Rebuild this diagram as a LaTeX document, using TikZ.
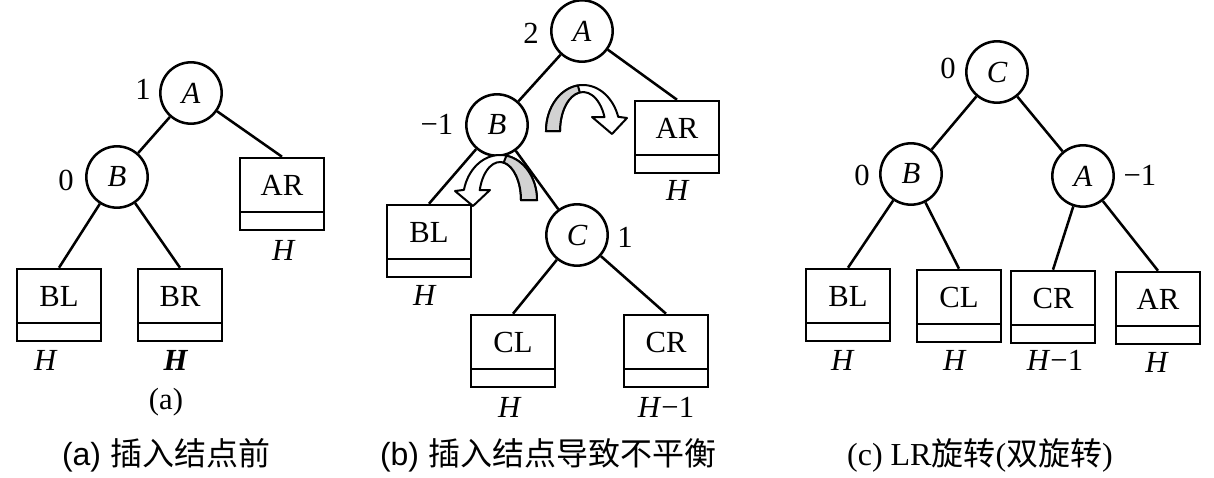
\documentclass[tikz,border=0pt]{standalone}
\usepackage{fontspec}
\setmainfont{Liberation Serif}
\newfontfamily\capsans{Liberation Sans}
\newfontfamily\cjk{Noto Sans CJK SC}
\usetikzlibrary{calc}
\tikzset{every picture/.style={line width=1.9pt}}

\begin{document}
\begin{tikzpicture}[x=0.75pt,y=0.75pt,yscale=-1,xscale=1,
  font=\fontsize{23}{27}\selectfont,
  vtx/.style={draw,circle,minimum size=46pt,inner sep=0pt,font=\fontsize{23}{27}\selectfont\itshape},
  tree/.style={draw,rectangle,minimum width=63pt,inner sep=0pt,text height=28pt,text depth=26pt,
    path picture={\draw ($(path picture bounding box.south west)!0.25!(path picture bounding box.north west)$) -- ($(path picture bounding box.south east)!0.25!(path picture bounding box.north east)$);}},
  captext/.style={font=\fontsize{24}{28}\selectfont},
  curl/.style={draw,fill=white,line width=1.5pt,line join=round},
  curlshade/.style={draw,fill=gray!35,line width=1.5pt}]
\useasboundingbox (0,0) rectangle (1214,478);

% (a) before insertion
\node[vtx] (aA) at (191,93) {A};
\node[vtx] (aB) at (117,177) {B};
\node[tree] (aAR) at (282,194) {AR};
\node[tree] (aBL) at (59,305) {BL};
\node[tree] (aBR) at (180,305) {BR};
\draw (aA) -- (aB);
\draw (aA) -- (aAR.north);
\draw (aB) -- (aBL.north);
\draw (aB) -- (aBR.north);
% Text Node
\node (aAbf) at (143,89) {1};
\node (aBbf) at (66,180) {0};
\node (aARh) at (284,250) {\textit{H}};
\node (aBLh) at (46,360) {\textit{H}};
\node (aBRh) at (176,360) {\textbf{\textit{H}}};
\node (aSub) at (166,402) {(a)};
\node[captext] (aCap) at (166,455) {\capsans (a) {\cjk 插入结点前}};

% (b) unbalanced
\node[vtx] (bA) at (582,31) {A};
\node[vtx] (bB) at (497,125) {B};
\node[vtx] (bC) at (577,235) {C};
\node[tree] (bAR) at (677,137) {AR};
\node[tree] (bBL) at (429,241) {BL};
\node[tree] (bCL) at (513,351) {CL};
\node[tree] (bCR) at (666,351) {CR};
\draw (bA) -- (bB);
\draw (bA) -- (bAR.north);
\draw (bB) -- (bBL.north);
\draw (bB) -- (bC);
\draw (bC) -- (bCL.north);
\draw (bC) -- (bCR.north);
%Shape: curved arrow right
\draw[curl] ([shift={(583,131)}]180:37 and 46) arc[start angle=180, end angle=342, x radius=37, y radius=46] -- (627,118) -- (612,134) -- (592,117) -- ([shift={(583,131)}]339:23 and 39) arc[start angle=339, end angle=180, x radius=23, y radius=39] -- cycle;
\draw[curlshade] ([shift={(583,131)}]180:37 and 46) arc[start angle=180, end angle=262, x radius=37, y radius=46] -- ([shift={(583,131)}]262:23 and 39) arc[start angle=262, end angle=180, x radius=23, y radius=39] -- cycle;
%Shape: curved arrow left
\draw[curl] ([shift={(500,200)}]360:37 and 45) arc[start angle=360, end angle=193, x radius=37, y radius=45] -- (455,191) -- (473,206) -- (490,190) -- ([shift={(500,200)}]195:21 and 38) arc[start angle=195, end angle=360, x radius=21, y radius=38] -- cycle;
\draw[curlshade] ([shift={(500,200)}]360:37 and 45) arc[start angle=360, end angle=280, x radius=37, y radius=45] -- ([shift={(500,200)}]280:21 and 38) arc[start angle=280, end angle=360, x radius=21, y radius=38] -- cycle;
% Text Node
\node (bAbf) at (531,33) {2};
\node (bBbf) at (437,124) {−1};
\node (bCbf) at (625,237) {1};
\node (bARh) at (678,190) {\textit{H}};
\node (bBLh) at (425,295) {\textit{H}};
\node (bCLh) at (510,407) {\textit{H}};
\node (bCRh) at (666,407) {\textit{H}−1};
\node[captext] (bCap) at (548,455) {\capsans (b) {\cjk 插入结点导致不平衡}};

% (c) LR rotation
\node[vtx] (cC) at (997,72) {C};
\node[vtx] (cB) at (911,174) {B};
\node[vtx] (cA) at (1083,176) {A};
\node[tree] (cBL) at (848,305) {BL};
\node[tree] (cCL) at (959,306) {CL};
\node[tree] (cCR) at (1053,307) {CR};
\node[tree] (cAR) at (1158,308) {AR};
\draw (cC) -- (cB);
\draw (cC) -- (cA);
\draw (cB) -- (cBL.north);
\draw (cB) -- (cCL.north);
\draw (cA) -- (cCR.north);
\draw (cA) -- (cAR.north);
% Text Node
\node (cCbf) at (948,68) {0};
\node (cBbf) at (862,175) {0};
\node (cAbf) at (1140,175) {−1};
\node (cBLh) at (843,360) {\textit{H}};
\node (cCLh) at (955,360) {\textit{H}};
\node (cCRh) at (1055,360) {\textit{H}−1};
\node (cARh) at (1157,362) {\textit{H}};
\node[captext] (cCap) at (980,455) {(c) LR{\cjk 旋转}({\cjk 双旋转})};

\end{tikzpicture}
\end{document}
